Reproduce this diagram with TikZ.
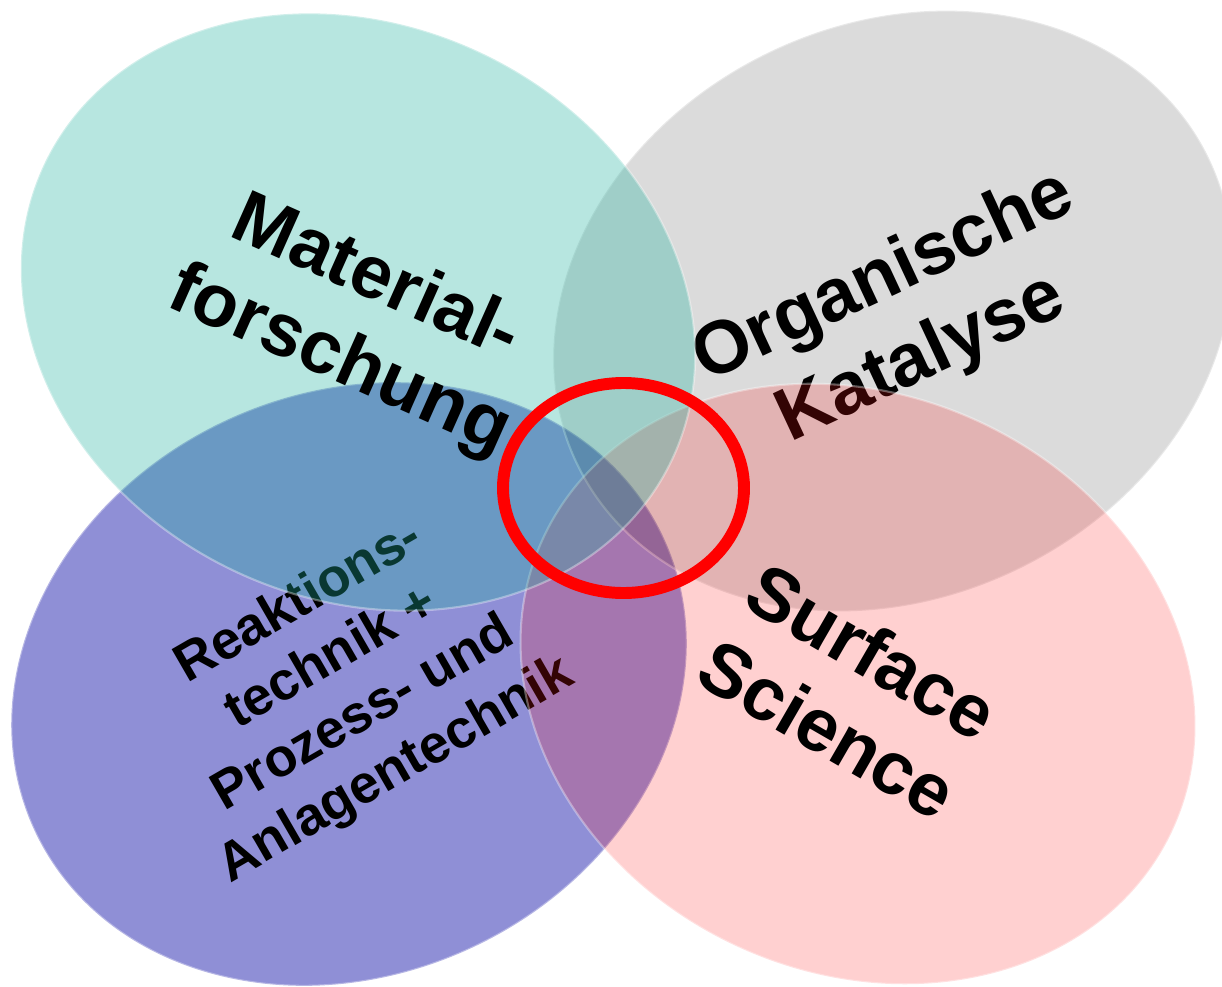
\documentclass[tikz,border=0pt]{standalone}
\usepackage{fontspec}
\setmainfont{Liberation Sans}
\definecolor{lavender}{RGB}{143,143,214}
\definecolor{seagreen}{RGB}{30,177,158}
\definecolor{signalred}{RGB}{255,20,20}

\begin{document}
\begin{tikzpicture}[
  x=0.02cm, y=-0.02cm,
  bubble/.style={draw=white, draw opacity=0.35, line width=1.2pt},
  topic/.style={font=\fontsize{42.5}{51}\selectfont\bfseries, align=center, inner sep=0pt},
  ]
  \tikzset{%
    small topic/.style={
      topic,
      font=\fontsize{30.6}{36.8}\selectfont\bfseries,
    },
    ring/.style={
      draw=red,
      line width=6.8pt,
    },
  }
  \useasboundingbox (0,0) rectangle (1222,986);
  %Centres
  \coordinate (cr) at (349,684);
  \coordinate (co) at (893,311);
  \coordinate (cs) at (858,684);
  \coordinate (cm) at (358,312);
  %Ellipses and their labels
  \path[fill=lavender, bubble, rotate around={25:(cr)}] (cr) ellipse [x radius=347, y radius=291];
  \node[small topic, rotate=30] (rea) at (348,687) {Reaktions-\\technik +\\Prozess- und\\Anlagentechnik};
  \path[fill=black, fill opacity=0.14, bubble, rotate around={26:(co)}] (co) ellipse [x radius=351, y radius=287];
  \node[topic, rotate=25] (org) at (903,319) {Organische\\Katalyse};
  \path[fill=signalred, fill opacity=0.2, bubble, rotate around={-25:(cs)}] (cs) ellipse [x radius=347, y radius=289];
  \node[topic, rotate=-30] (surf) at (850,690) {Surface\\Science};
  \path[fill=seagreen, fill opacity=0.32, bubble, rotate around={-25:(cm)}] (cm) ellipse [x radius=347, y radius=287];
  \node[topic, rotate=-24] (mat) at (357,321) {Material-\\forschung};
  %Overlap
  \draw[ring] (623.5,488) ellipse [x radius=120.5, y radius=105];
\end{tikzpicture}
\end{document}
